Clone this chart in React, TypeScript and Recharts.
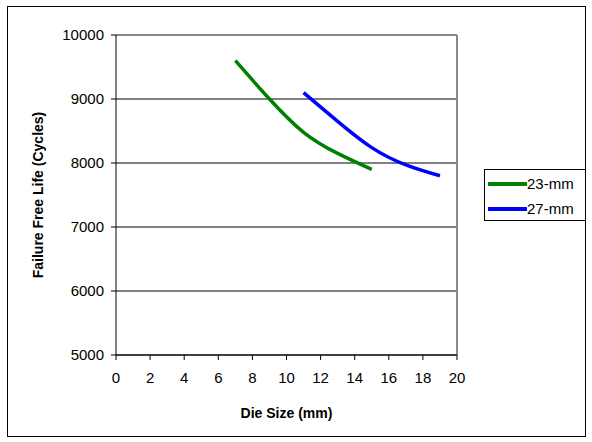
import React from 'react';
import { LineChart, Line, XAxis, YAxis, CartesianGrid, ReferenceLine } from 'recharts';

const dieSizes23 = [7, 9, 11, 13, 15];
const life23 = [9600, 9000, 8480, 8150, 7900];
const dieSizes27 = [11, 13, 15, 17, 19];
const life27 = [9100, 8650, 8240, 7970, 7800];
const xTicks = [0, 2, 4, 6, 8, 10, 12, 14, 16, 18, 20];
const yTicks = [5000, 6000, 7000, 8000, 9000, 10000];

const series = [
  { name: '23-mm', color: '#008000', data: dieSizes23.map((x, i) => ({ x, y: life23[i] })) },
  { name: '27-mm', color: '#0000ff', data: dieSizes27.map((x, i) => ({ x, y: life27[i] })) },
];

const font = '"Liberation Sans", Arial, sans-serif';

// legend box drawn as html on top of the chart
const LegendBox = () => (
  <div style={{ position: 'absolute', left: 484, top: 169, width: 100, height: 50, border: '1px solid #000', fontFamily: font, fontSize: 15, color: '#000', background: '#fff' }}>
    {series.map((s, i) => (
      <div key={s.name} style={{ display: 'flex', alignItems: 'center', height: 25, marginTop: i === 0 ? 1 : 0 }}>
        <div style={{ width: 39, height: 4, background: s.color, marginLeft: 3 }} />
        <span>{s.name}</span>
      </div>
    ))}
  </div>
);

export default function App() {
  return (
    <div style={{ position: 'absolute', left: 0, top: 0, width: 592, height: 442, background: '#fff' }}>
      <div style={{ position: 'absolute', left: 7, top: 6, width: 577, height: 429, border: '1px solid #000' }} />
      <LineChart
        width={592}
        height={442}
        margin={{ top: 35, right: 135, left: 0, bottom: 0 }}
        style={{ fontFamily: font }}
      >
        <CartesianGrid horizontal vertical={false} stroke="#000" />
        <ReferenceLine y={10000} stroke="#888" strokeWidth={2} />
        <ReferenceLine x={20} stroke="#888" strokeWidth={2} />
        <XAxis
          dataKey="x"
          type="number"
          domain={[0, 20]}
          ticks={xTicks}
          allowDuplicatedCategory={false}
          height={87}
          stroke="#000"
          tickSize={5}
          tickMargin={12}
          tick={{ fill: '#000', fontSize: 15 }}
          label={{ value: 'Die Size (mm)', position: 'insideBottom', offset: 24, fill: '#000', fontSize: 14, fontWeight: 'bold' }}
        />
        <YAxis
          dataKey="y"
          type="number"
          domain={[5000, 10000]}
          ticks={yTicks}
          width={116}
          stroke="#000"
          tickSize={5}
          tickMargin={7}
          tick={{ fill: '#000', fontSize: 15 }}
          label={{ value: 'Failure Free Life (Cycles)', angle: -90, position: 'insideLeft', offset: 38, style: { textAnchor: 'middle' }, fill: '#000', fontSize: 14, fontWeight: 'bold' }}
        />
        {series.map((s) => (
          <Line
            key={s.name}
            data={s.data}
            dataKey="y"
            name={s.name}
            type="natural"
            stroke={s.color}
            strokeWidth={3.5}
            dot={false}
            isAnimationActive={false}
          />
        ))}
      </LineChart>
      <LegendBox />
    </div>
  );
}
